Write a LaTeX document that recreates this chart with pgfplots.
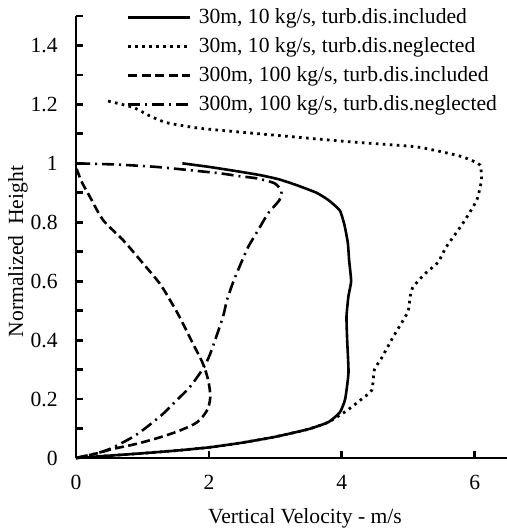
\documentclass[border=0pt]{standalone}
\usepackage{fontspec}
\setmainfont{Liberation Serif}
\usepackage{pgfplots}
\pgfplotsset{compat=1.18}
\begin{document}
\fontsize{10.8}{13}\selectfont
\begin{tikzpicture}
\begin{axis}[
  scale only axis, width=216pt, height=221pt,
  xmin=0, xmax=6.5, ymin=0, ymax=1.5,
  axis lines=left, axis line style={-, line width=1.4pt},
  xtick={0,2,4,6}, ytick={0,0.2,0.4,0.6,0.8,1,1.2,1.4},
  minor ytick={0.1,0.3,0.5,0.7,0.9,1.1,1.3,1.5},
  tick align=inside, major tick length=3.5pt, minor tick length=3.5pt,
  every tick/.style={black, line width=1.4pt},
  /pgf/number format/assume math mode=true,
  tick label style={font=\fontsize{10.8}{13}\selectfont},
  xticklabel style={yshift=-5pt},
  yticklabel style={xshift=-5.4pt},
  xlabel={Vertical Velocity - m/s}, ylabel={Normalized\ \ Height},
  label style={font=\fontsize{10.8}{13}\selectfont},
  xlabel style={at={(axis description cs:0.53,-0.1357)}, anchor=center},
  ylabel style={at={(axis description cs:-0.1343,0.467)}, anchor=center},
  legend style={draw=none, fill=none, at={(axis description cs:0.118,1.017)}, anchor=north west,
    inner sep=0pt, outer sep=0pt, row sep=5.4pt, nodes={inner sep=0pt},
    /tikz/every odd column/.append style={column sep=3.5pt}},
  legend cell align=left,
  legend image code/.code={\draw[#1] (0pt,0pt) -- (31pt,0pt);},
  clip=false,
]
\addplot[black, line width=1.3pt, smooth, tension=0.3] coordinates {
(0,0) (0.5,0.008) (1,0.016) (1.5,0.025) (2,0.036) (2.5,0.052) (3,0.072) (3.5,0.098)
(3.8,0.122) (3.97,0.155) (4.05,0.2) (4.1,0.29) (4.08,0.4) (4.07,0.48) (4.1,0.55)
(4.14,0.6) (4.11,0.67) (4.09,0.73) (4.04,0.79) (3.97,0.84) (3.8,0.875) (3.62,0.9)
(3.32,0.926) (3.05,0.946) (2.77,0.96) (2.4,0.974) (2.0,0.988) (1.6,1.0)};
\addlegendentry{30m, 10 kg/s, turb.dis.included}
\addplot[black, line width=1.4pt, dash pattern=on 1.3pt off 2.2pt, smooth, tension=0.3] coordinates {
(0,0) (0.5,0.008) (1,0.016) (1.5,0.025) (2,0.036) (2.5,0.052) (3,0.072) (3.5,0.098)
(3.8,0.122) (4.07,0.16) (4.27,0.195) (4.45,0.23) (4.49,0.3) (4.6,0.34) (4.77,0.41)
(4.93,0.47) (5.0,0.5) (5.03,0.55) (5.07,0.58) (5.25,0.625) (5.45,0.665) (5.57,0.716)
(5.82,0.796) (6.03,0.875) (6.1,0.943) (6.08,0.994) (5.9,1.015) (5.72,1.028) (5.12,1.056)
(4.12,1.073) (2.77,1.10) (1.86,1.119) (1.36,1.138) (1.1,1.162) (0.86,1.19) (0.45,1.213)};
\addlegendentry{30m, 10 kg/s, turb.dis.neglected}
\addplot[black, line width=1.3pt, dash pattern=on 4.5pt off 2.2pt, smooth, tension=0.5] coordinates {
(0,0) (0.3,0.015) (0.56,0.031) (0.91,0.048) (1.26,0.07) (1.56,0.093) (1.82,0.121)
(1.97,0.161) (2.02,0.206) (1.99,0.263) (1.91,0.32) (1.76,0.388) (1.56,0.478)
(1.43,0.53) (1.26,0.592) (1.01,0.66) (0.71,0.739) (0.41,0.807) (0.21,0.886)
(0.08,0.94) (0,0.988)};
\addlegendentry{300m, 100 kg/s, turb.dis.included}
\addplot[black, line width=1.3pt, dash pattern=on 6pt off 2.5pt on 1pt off 2.5pt, smooth, tension=0.4] coordinates {
(0,0) (0.36,0.019) (0.56,0.036) (0.86,0.072) (1.06,0.104) (1.31,0.15) (1.51,0.195)
(1.71,0.24) (1.91,0.303) (2.02,0.354) (2.21,0.478) (2.27,0.535) (2.37,0.6) (2.49,0.665)
(2.59,0.716) (2.74,0.773) (2.89,0.83) (3.06,0.875) (3.09,0.905) (2.99,0.932)
(2.72,0.949) (2.44,0.957) (2.17,0.966) (1.7,0.977) (1.2,0.988) (0.6,0.996) (0,1.0)};
\addlegendentry{300m, 100 kg/s, turb.dis.neglected}
\coordinate (O) at (rel axis cs:0,0);
\coordinate (T) at (rel axis cs:1,1);
\end{axis}
\pgfresetboundingbox
\path[use as bounding box] ([xshift=-38pt,yshift=-36.5pt]O) rectangle ([xshift=-0.5pt,yshift=8pt]T);
\end{tikzpicture}
\end{document}
